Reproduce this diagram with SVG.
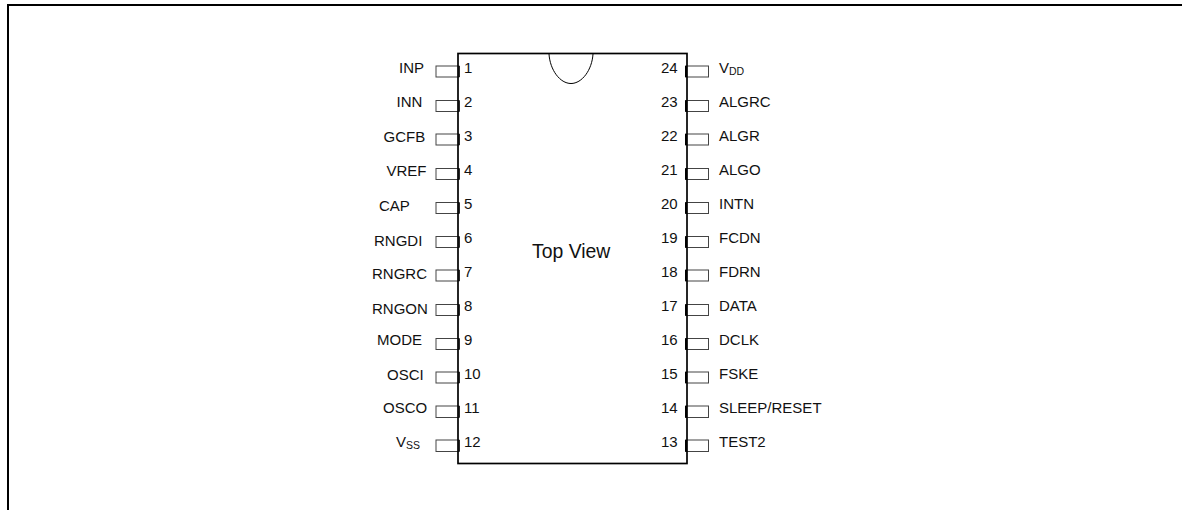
<svg xmlns="http://www.w3.org/2000/svg" width="1182" height="510" viewBox="0 0 1182 510">
<style>
text{font-family:"Liberation Sans",Arial,sans-serif;font-size:15px;fill:#111}
.sub{font-size:10.500px}
.pin{fill:#fff;stroke:#444;stroke-width:1}
.body{fill:none;stroke:#000;stroke-width:1.700}
.tl{stroke:#222;stroke-width:1.500}
.tr{stroke:#000;stroke-width:2}
</style>
<rect width="1182" height="510" fill="#fff"/>
<path d="M8 510V5H1182" fill="none" stroke="#000" stroke-width="2"/>
<g id="connectors"></g>
<g id="pin1"><rect class="pin" x="436" y="66" width="23" height="11"/><path class="tl" d="M459.200 66V77"/><text x="464" y="73">1</text><text x="399" y="73">INP</text></g>
<g id="pin2"><rect class="pin" x="436" y="100.500" width="23" height="11"/><path class="tl" d="M459.200 100.500V111.500"/><text x="464" y="107">2</text><text x="396.500" y="107">INN</text></g>
<g id="pin3"><rect class="pin" x="436" y="134" width="23" height="11"/><path class="tl" d="M459.200 134V145"/><text x="464" y="141">3</text><text x="383.500" y="142">GCFB</text></g>
<g id="pin4"><rect class="pin" x="436" y="168.500" width="23" height="11"/><path class="tl" d="M459.200 168.500V179.500"/><text x="464" y="175">4</text><text x="386.500" y="176">VREF</text></g>
<g id="pin5"><rect class="pin" x="436" y="202.500" width="23" height="11"/><path class="tl" d="M459.200 202.500V213.500"/><text x="464" y="209">5</text><text x="379" y="211">CAP</text></g>
<g id="pin6"><rect class="pin" x="436" y="236.500" width="23" height="11"/><path class="tl" d="M459.200 236.500V247.500"/><text x="464" y="243">6</text><text x="374" y="246">RNGDI</text></g>
<g id="pin7"><rect class="pin" x="436" y="270" width="23" height="11"/><path class="tl" d="M459.200 270V281"/><text x="464" y="277">7</text><text x="372" y="279">RNGRC</text></g>
<g id="pin8"><rect class="pin" x="436" y="304.500" width="23" height="11"/><path class="tl" d="M459.200 304.500V315.500"/><text x="464" y="311">8</text><text x="372" y="314">RNGON</text></g>
<g id="pin9"><rect class="pin" x="436" y="338.500" width="23" height="11"/><path class="tl" d="M459.200 338.500V349.500"/><text x="464" y="345">9</text><text x="377" y="345">MODE</text></g>
<g id="pin10"><rect class="pin" x="436" y="372" width="23" height="11"/><path class="tl" d="M459.200 372V383"/><text x="464" y="379">10</text><text x="387" y="380">OSCI</text></g>
<g id="pin11"><rect class="pin" x="436" y="406" width="23" height="11.500"/><path class="tl" d="M459.200 406V417.500"/><text x="464" y="413">11</text><text x="383" y="413">OSCO</text></g>
<g id="pin12"><rect class="pin" x="436" y="440" width="23" height="11.500"/><path class="tl" d="M459.200 440V451.500"/><text x="464" y="447">12</text><text x="396" y="447">V<tspan class="sub" dy="2">SS</tspan></text></g>
<g id="pin24"><rect class="pin" x="685.500" y="66" width="23" height="11"/><path class="tr" d="M686 66V77"/><text x="661" y="73">24</text><text x="719" y="73">V<tspan class="sub" dy="2">DD</tspan></text></g>
<g id="pin23"><rect class="pin" x="685.500" y="100.500" width="23" height="11"/><path class="tr" d="M686 100.500V111.500"/><text x="661" y="107">23</text><text x="719" y="107">ALGRC</text></g>
<g id="pin22"><rect class="pin" x="685.500" y="134" width="23" height="11"/><path class="tr" d="M686 134V145"/><text x="661" y="141">22</text><text x="719" y="141">ALGR</text></g>
<g id="pin21"><rect class="pin" x="685.500" y="168.500" width="23" height="11"/><path class="tr" d="M686 168.500V179.500"/><text x="661" y="175">21</text><text x="719" y="175">ALGO</text></g>
<g id="pin20"><rect class="pin" x="685.500" y="202.500" width="23" height="11"/><path class="tr" d="M686 202.500V213.500"/><text x="661" y="209">20</text><text x="719" y="209">INTN</text></g>
<g id="pin19"><rect class="pin" x="685.500" y="236.500" width="23" height="11"/><path class="tr" d="M686 236.500V247.500"/><text x="661" y="243">19</text><text x="719" y="243">FCDN</text></g>
<g id="pin18"><rect class="pin" x="685.500" y="270" width="23" height="11"/><path class="tr" d="M686 270V281"/><text x="661" y="277">18</text><text x="719" y="277">FDRN</text></g>
<g id="pin17"><rect class="pin" x="685.500" y="304.500" width="23" height="11"/><path class="tr" d="M686 304.500V315.500"/><text x="661" y="311">17</text><text x="719" y="311">DATA</text></g>
<g id="pin16"><rect class="pin" x="685.500" y="338.500" width="23" height="11"/><path class="tr" d="M686 338.500V349.500"/><text x="661" y="345">16</text><text x="719" y="345">DCLK</text></g>
<g id="pin15"><rect class="pin" x="685.500" y="372" width="23" height="11"/><path class="tr" d="M686 372V383"/><text x="661" y="379">15</text><text x="719" y="379">FSKE</text></g>
<g id="pin14"><rect class="pin" x="685.500" y="406" width="23" height="11.500"/><path class="tr" d="M686 406V417.500"/><text x="661" y="413">14</text><text x="719" y="413">SLEEP/RESET</text></g>
<g id="pin13"><rect class="pin" x="685.500" y="440" width="23" height="11.500"/><path class="tr" d="M686 440V451.500"/><text x="661" y="447">13</text><text x="719" y="447">TEST2</text></g>
<g id="chip">
<rect class="body" x="458" y="53.500" width="229" height="410"/>
<path d="M549 54C550 70 560 83.500 571 83.500C582 83.500 592 70 593 54" fill="none" stroke="#000" stroke-width="1"/>
<text x="532" y="258" style="font-size:19.400px">Top View</text>
</g>
</svg>
